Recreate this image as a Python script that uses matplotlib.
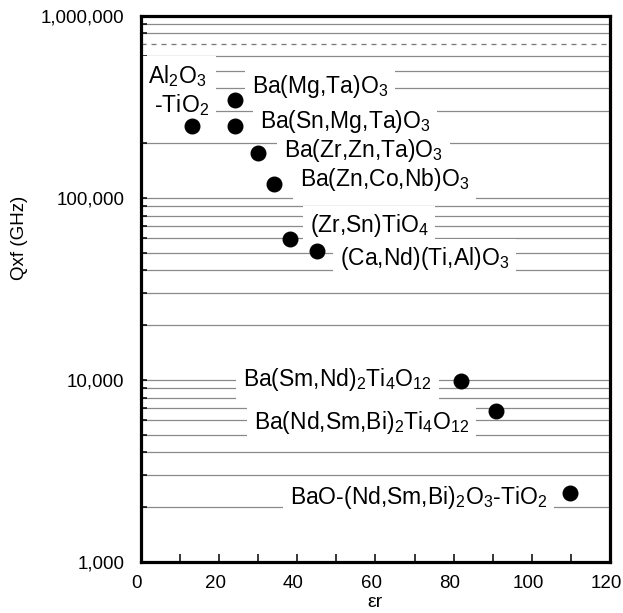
import matplotlib
matplotlib.use('Agg')
import matplotlib.pyplot as plt
import matplotlib.transforms as mtransforms
from matplotlib.ticker import FixedLocator, LogLocator, NullFormatter

plt.rcParams['font.family'] = ['Liberation Sans', 'DejaVu Sans']
plt.rcParams['mathtext.fontset'] = 'custom'
plt.rcParams['mathtext.rm'] = 'Liberation Sans'
plt.rcParams['mathtext.default'] = 'regular'

# material data: dielectric constant vs Qxf
materials = [r'Al$_2$O$_3$-TiO$_2$', r'Ba(Mg,Ta)O$_3$', r'Ba(Sn,Mg,Ta)O$_3$',
             r'Ba(Zr,Zn,Ta)O$_3$', r'Ba(Zn,Co,Nb)O$_3$', r'(Zr,Sn)TiO$_4$',
             r'(Ca,Nd)(Ti,Al)O$_3$', r'Ba(Sm,Nd)$_2$Ti$_4$O$_{12}$',
             r'Ba(Nd,Sm,Bi)$_2$Ti$_4$O$_{12}$', r'BaO-(Nd,Sm,Bi)$_2$O$_3$-TiO$_2$']
eps_r = [13.1, 24.0, 24.0, 30.0, 34.0, 38.1, 45.0, 81.9, 90.8, 109.8]
qf = [247000, 343000, 247000, 177000, 119000, 59300, 51200, 9900, 6780, 2380]

# label anchors (left edge x, vertical centre y)
label_text = [r'Al$_2$O$_3$' + '\n' + r' -TiO$_2$', r'Ba(Mg,Ta)O$_3$', r'Ba(Sn,Mg,Ta)O$_3$',
              r'Ba(Zr,Zn,Ta)O$_3$', r'Ba(Zn,Co,Nb)O$_3$', r'(Zr,Sn)TiO$_4$',
              r'(Ca,Nd)(Ti,Al)O$_3$', r'Ba(Sm,Nd)$_2$Ti$_4$O$_{12}$',
              r'Ba(Nd,Sm,Bi)$_2$Ti$_4$O$_{12}$', r'BaO-(Nd,Sm,Bi)$_2$O$_3$-TiO$_2$']
label_x = [1.8, 28.4, 30.4, 36.6, 40.7, 43.2, 50.9, 26.1, 28.9, 38.1]
label_y = [390000, 407000, 262000, 183000, 125600, 70100, 46200, 10100, 5870, 2275]

limit_line = 700000
yticks = [1000, 10000, 100000, 1000000]
ytick_labels = ['1,000', '10,000', '100,000', '1,000,000']

fig = plt.figure(figsize=(6.23, 6.13), dpi=100)
ax = fig.add_axes([0.2263, 0.0832, 0.7528, 0.8910])
ax.set_yscale('log')
ax.set_xlim(0, 120)
ax.set_ylim(1000, 1000000)

ax.yaxis.set_major_locator(FixedLocator(yticks))
ax.set_yticklabels(ytick_labels)
ax.yaxis.set_minor_locator(LogLocator(base=10, subs=range(2, 10)))
ax.yaxis.set_minor_formatter(NullFormatter())
ax.set_xticks(range(0, 121, 20))
ax.set_xticks(range(10, 120, 20), minor=True)

ax.grid(True, which='both', axis='y', color='#8a8a8a', lw=0.9, zorder=0.5)
ax.set_axisbelow(True)
ax.axhline(limit_line, color='white', lw=2, zorder=0.7)
ax.axhline(limit_line, color='#777777', lw=0.9, ls=(0, (4, 4)), zorder=0.8)

# white boxes first (blank out grid lines), then the text on top
for t, x, y in zip(label_text, label_x, label_y):
    ax.text(x, y, t, fontsize=16.5, ha='left', va='center', zorder=2.8,
            linespacing=1.15, color='none',
            bbox=dict(boxstyle='square,pad=0.3', fc='white', ec='none'))
for t, x, y in zip(label_text, label_x, label_y):
    ax.text(x, y, t, fontsize=16.5, ha='left', va='center', zorder=3.1,
            linespacing=1.15, color='black')

ax.scatter(eps_r, qf, s=110, color='black', zorder=4, clip_on=False)

for s in ax.spines.values():
    s.set_linewidth(2.3)
    s.set_zorder(5)
ax.tick_params(axis='both', which='both', direction='in', labelsize=13.5, width=1.1)
ax.tick_params(axis='x', which='both', length=5.5, pad=9.5)
ax.tick_params(axis='y', which='both', length=4, pad=12)

# x tick labels sit a few pixels left of their ticks in the original
shift = mtransforms.ScaledTranslation(-4 / 100, 0, fig.dpi_scale_trans)
for lab in ax.get_xticklabels():
    lab.set_transform(lab.get_transform() + shift)

ax.set_xlabel('εr', fontsize=14, labelpad=1)
ax.set_ylabel('Qxf (GHz)', fontsize=13.5)
ax.yaxis.set_label_coords(-0.241, 0.593)

fig.savefig('out.png', dpi=100)
